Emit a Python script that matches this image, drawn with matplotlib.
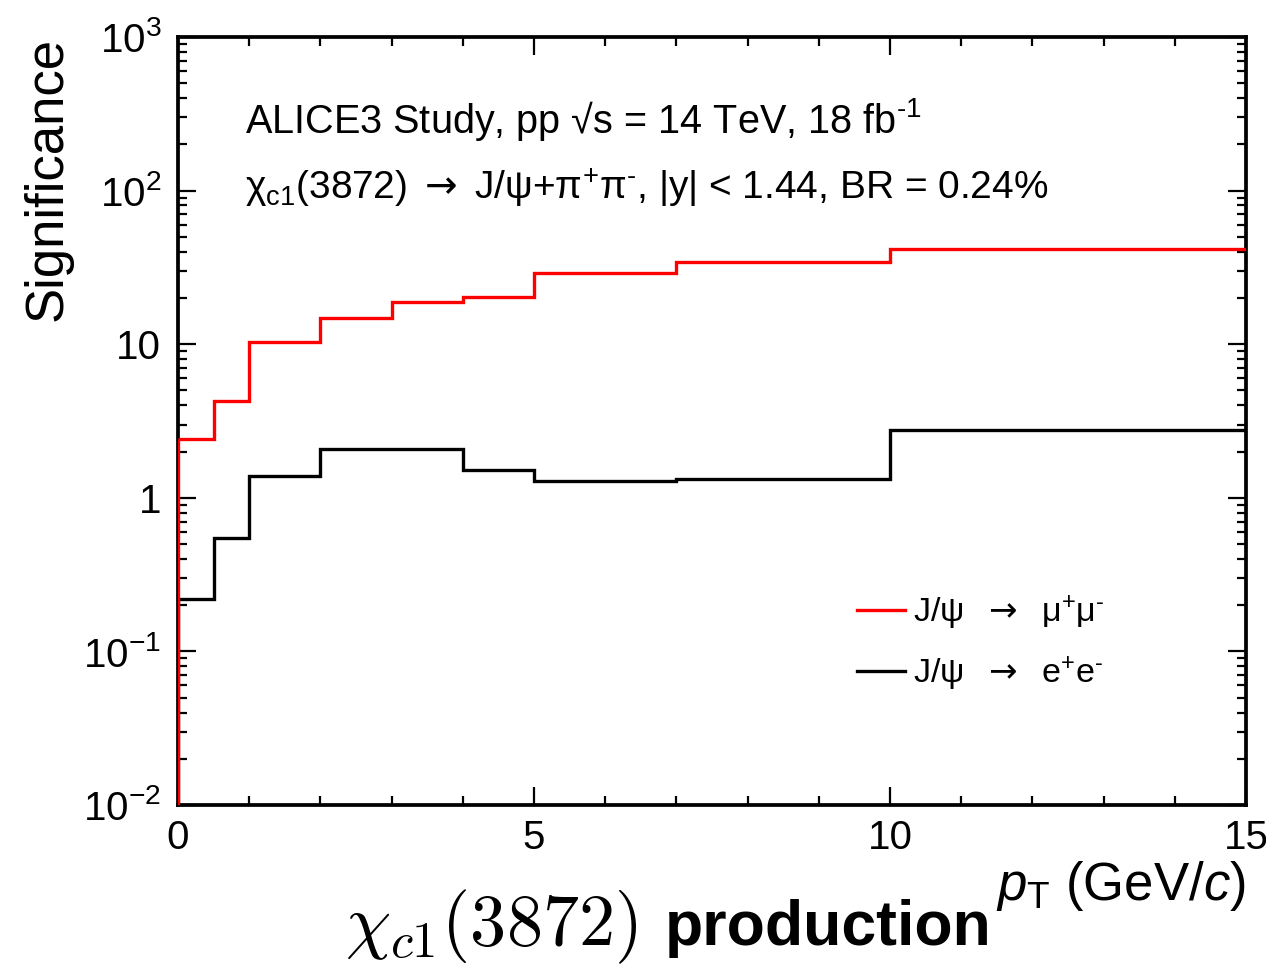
import matplotlib
matplotlib.use("Agg")
import matplotlib.pyplot as plt
from matplotlib.ticker import FixedLocator, FixedFormatter, LogLocator, MultipleLocator, NullFormatter

plt.rcParams['font.family'] = ['Liberation Sans', 'DejaVu Sans']
plt.rcParams['mathtext.fontset'] = 'custom'
plt.rcParams['mathtext.rm'] = 'Liberation Sans'
plt.rcParams['mathtext.it'] = 'Liberation Sans:italic'
plt.rcParams['mathtext.bf'] = 'Liberation Sans:bold'
plt.rcParams['mathtext.sf'] = 'DejaVu Sans'

# pT bin edges (GeV/c) and significance per bin
pt_edges = [0, 0.5, 1, 2, 3, 4, 5, 7, 10, 15]
signif_mumu = [2.42, 4.25, 10.3, 14.9, 18.8, 20.3, 29.1, 34.5, 41.7]
signif_ee = [0.221, 0.548, 1.386, 2.085, 2.065, 1.515, 1.285, 1.33, 2.78]

y_major = [1e-2, 1e-1, 1, 10, 1e2, 1e3]
y_major_labels = [r'$\mathdefault{10^{-2}}$', r'$\mathdefault{10^{-1}}$', '1', '10',
                  r'$\mathdefault{10^{2}}$', r'$\mathdefault{10^{3}}$']
x_major = [0, 5, 10, 15]

arrow = r'$\mathsf{\rightarrow}$'
label_mumu = r'J/ψ  ' + arrow + r'  μ$^{+}$μ$^{\text{-}}$'
label_ee = r'J/ψ  ' + arrow + r'  e$^{+}$e$^{\text{-}}$'

fig = plt.figure(figsize=(12.66, 9.65), dpi=100)
ax = fig.add_axes([178 / 1266, 1 - 805 / 965, 1068 / 1266, 768 / 965])

ylo, yhi = 1e-2, 1e3
ax.set_xlim(pt_edges[0], pt_edges[-1])
ax.set_yscale('log')
ax.set_ylim(ylo, yhi)

lw = 2.4
ax.stairs(signif_ee, pt_edges, baseline=None, color='black', lw=lw, zorder=3, label=label_ee)
ax.vlines(pt_edges[0], ylo, signif_ee[0], color='black', lw=lw, zorder=3)
ax.stairs(signif_mumu, pt_edges, baseline=None, color='#ff0000', lw=lw, zorder=4, label=label_mumu)
ax.vlines(pt_edges[0], ylo, signif_mumu[0], color='#ff0000', lw=lw, zorder=4)

# Axes styling
for sp in ax.spines.values():
    sp.set_linewidth(2.7)
ax.yaxis.set_major_locator(FixedLocator(y_major))
ax.yaxis.set_major_formatter(FixedFormatter(y_major_labels))
ax.yaxis.set_minor_locator(LogLocator(base=10, subs=range(2, 10), numticks=20))
ax.yaxis.set_minor_formatter(NullFormatter())
ax.xaxis.set_major_locator(FixedLocator(x_major))
ax.xaxis.set_minor_locator(MultipleLocator(1))
ax.tick_params(which='both', direction='in', top=True, right=True, width=1.6)
ax.tick_params(which='major', length=13, labelsize=29)
ax.tick_params(which='minor', length=6.5)
ax.tick_params(axis='y', which='major', pad=12)
ax.tick_params(axis='x', which='major', pad=10)

ax.set_ylabel('Significance', fontsize=38, loc='top')
ax.yaxis.set_label_coords(-0.099, 1.0)
ax.set_xlabel(r'$p_{\mathrm{T}}$ (GeV/$c$)', fontsize=38, loc='right')
ax.xaxis.set_label_coords(1.0, -0.07)

ax.text(0.0627, 0.875, r'ALICE3 Study, pp √s = 14 TeV, 18 fb$^{\text{-1}}$',
        transform=ax.transAxes, fontsize=28.5, va='baseline', ha='left')
ax.text(0.0627, 0.788,
        r'χ$_{\mathrm{c1}}$(3872) ' + arrow + r' J/ψ+π$^{+}$π$^{\text{-}}$, |y| < 1.44, BR = 0.24%',
        transform=ax.transAxes, fontsize=28, va='baseline', ha='left')

handles, labels = ax.get_legend_handles_labels()
ax.legend(handles[::-1], labels[::-1], loc='upper left', bbox_to_anchor=(0.636, 0.275),
          frameon=False, fontsize=24.5, handlelength=1.4, handletextpad=0.25,
          labelspacing=0.65, borderpad=0, borderaxespad=0)

fig.text(345 / 1266, 1 - 945 / 965, r'$\chi_{c1}(3872)$', fontsize=52,
         math_fontfamily='cm', ha='left', va='baseline')
fig.text(665 / 1266, 1 - 945 / 965, 'production', fontsize=45,
         fontweight='bold', ha='left', va='baseline')

fig.savefig('out.png', dpi=100)
